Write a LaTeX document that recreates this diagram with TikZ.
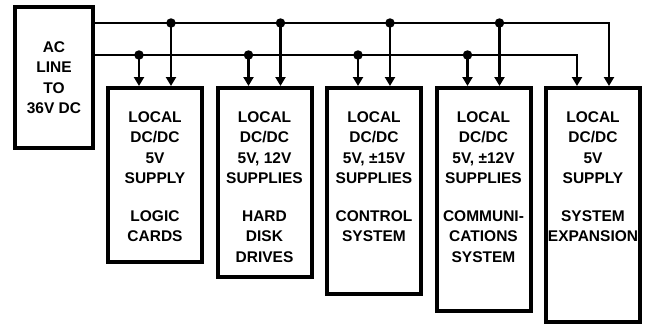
\documentclass[tikz,border=0pt]{standalone}
\usepackage{fontspec}
\setmainfont{Liberation Sans}
\usetikzlibrary{arrows.meta, calc}

\begin{document}
\begin{tikzpicture}[
    x=1pt, y=-1pt,
    unit/.style={draw, line width=4pt, outer sep=0pt, minimum width=94pt, anchor=north west},
    txt/.style={font=\fontsize{15.5}{20.5}\selectfont\bfseries, align=center, inner sep=0pt},
    feed/.style={-{Triangle[length=9pt, width=10pt]}, line width=2.6pt},
    tap/.style={circle, fill, inner sep=0pt, minimum size=9.5pt}
]
    \useasboundingbox (0,0) rectangle (646,327);
    % source
    \node[unit, txt, minimum width=78pt, minimum height=141pt] (ac) at (15,7) {AC\\LINE\\TO\\36V DC};
    % local converters
    \node[unit, minimum height=174pt] (b1) at (108,88) {};
    \node[unit, minimum height=189pt] (b2) at (217.5,88) {};
    \node[unit, minimum height=206pt] (b3) at (327,88) {};
    \node[unit, minimum height=223pt] (b4) at (436.5,88) {};
    \node[unit, minimum height=234pt] (b5) at (546,88) {};
    \node[txt, anchor=north] (t1) at ($(b1.north)+(0,23)$) {LOCAL\\DC/DC\\5V\\SUPPLY\\[17pt]LOGIC\\CARDS};
    \node[txt, anchor=north] (t2) at ($(b2.north)+(0,23)$) {LOCAL\\DC/DC\\5V, 12V\\SUPPLIES\\[17pt]HARD\\DISK\\DRIVES};
    \node[txt, anchor=north] (t3) at ($(b3.north)+(0,23)$) {LOCAL\\DC/DC\\5V, ±15V\\SUPPLIES\\[17pt]CONTROL\\SYSTEM};
    \node[txt, anchor=north] (t4) at ($(b4.north)+(0,23)$) {LOCAL\\DC/DC\\5V, ±12V\\SUPPLIES\\[17pt]COMMUNI-\\CATIONS\\SYSTEM};
    \node[txt, anchor=north] (t5) at ($(b5.north)+(0,23)$) {LOCAL\\DC/DC\\5V\\SUPPLY\\[17pt]SYSTEM\\EXPANSION};
    % buses
    \coordinate (hv) at ($(ac.north east)+(0,16)$);
    \coordinate (lv) at ($(ac.north east)+(0,48)$);
    \foreach \i in {1,...,5} {
        \coordinate (lo\i) at ($(b\i.north)+(-16,-2)$);
        \coordinate (hi\i) at ($(b\i.north)+(16,-2)$);
    }
    \foreach \i in {1,...,4} {
        \draw[feed] (hi\i |- hv) -- (hi\i);
        \draw[feed] (lo\i |- lv) -- (lo\i);
        \node[tap] at (hi\i |- hv) {};
        \node[tap] at (lo\i |- lv) {};
    }
    \draw[feed, line join=miter] (hv) -- (hi5 |- hv) -- (hi5);
    \draw[feed, line join=miter] (lv) -- (lo5 |- lv) -- (lo5);
\end{tikzpicture}
\end{document}
